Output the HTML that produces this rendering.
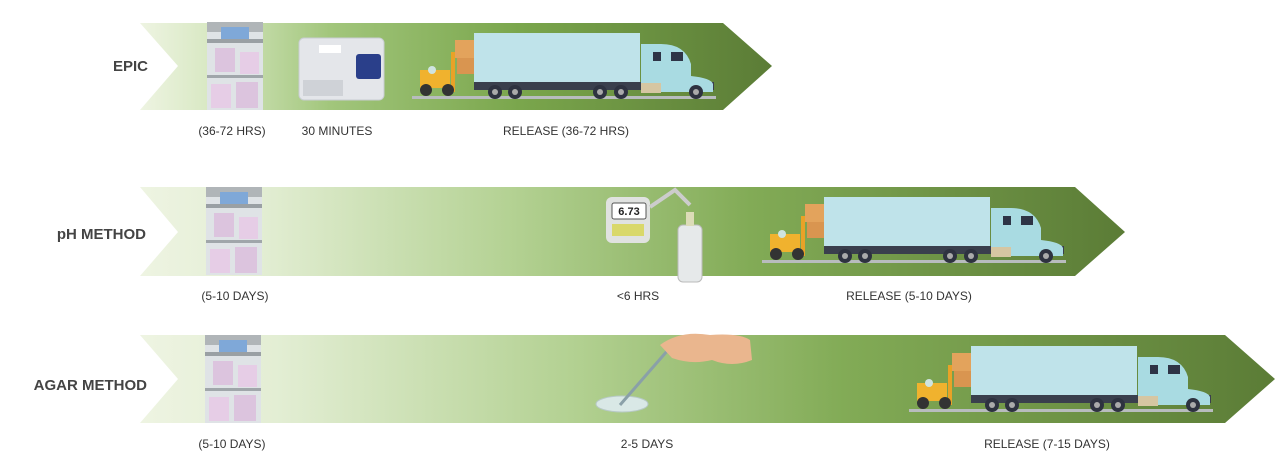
<!DOCTYPE html>
<html><head><meta charset="utf-8"><style>
html,body{margin:0;padding:0;background:#fff;}
svg{display:block;}
text{font-family:"Liberation Sans",sans-serif;}
.l{font-size:12px;fill:#333;}
.h{font-size:15px;font-weight:bold;fill:#444;}
</style></head><body>
<svg width="1280" height="455" viewBox="0 0 1280 455">
<defs>
<linearGradient id="g1" x1="0" x2="1" y1="0" y2="0">
<stop offset="0" stop-color="#eef4e2"/><stop offset="0.12" stop-color="#d6e7c0"/><stop offset="0.3" stop-color="#a2c67c"/><stop offset="0.6" stop-color="#7aa64c"/><stop offset="1" stop-color="#5b7c36"/></linearGradient>
<linearGradient id="g2" x1="0" x2="1" y1="0" y2="0">
<stop offset="0" stop-color="#eef4e2"/><stop offset="0.12" stop-color="#e3eed4"/><stop offset="0.38" stop-color="#b3d192"/><stop offset="0.62" stop-color="#82ab56"/><stop offset="1" stop-color="#5b7c36"/></linearGradient>
<g id="inc">
<rect x="0" y="0" width="56" height="88" fill="#dfe3e6"/>
<rect x="0" y="0" width="56" height="10" fill="#b0b5b8"/>
<rect x="14" y="5" width="28" height="12" fill="#7fa8d8"/>
<rect x="0" y="17" width="56" height="4" fill="#9aa0a4"/>
<rect x="0" y="53" width="56" height="3" fill="#a0a6aa"/>
<rect x="8" y="26" width="20" height="24" fill="#dcc4de"/><rect x="33" y="30" width="19" height="22" fill="#e6cde6"/>
<rect x="4" y="62" width="20" height="24" fill="#e6cde6"/><rect x="29" y="60" width="22" height="26" fill="#dcc4de"/>
</g>
<g id="truck">
<rect x="-3" y="66" width="304" height="3" fill="#b8bcbe"/>
<rect x="40" y="10" width="20" height="18" fill="#e3a35c"/><rect x="42" y="28" width="20" height="16" fill="#d99550"/>
<rect x="5" y="40" width="30" height="18" fill="#f0b22e"/><rect x="36" y="22" width="4" height="40" fill="#e9a227"/>
<circle cx="17" cy="40" r="4" fill="#cfe4e0"/>
<circle cx="11" cy="60" r="6" fill="#333"/><circle cx="33" cy="60" r="6" fill="#333"/>
<rect x="59" y="3" width="166" height="49" fill="#bfe3ea"/>
<rect x="59" y="52" width="240" height="8" fill="#3a3f4d"/>
<path d="M226 14 h20 q24 0 30 20 l0 12 q20 2 22 8 v8 h-72z" fill="#a9dbe2"/>
<rect x="238" y="22" width="8" height="9" fill="#2e3446"/><rect x="256" y="22" width="12" height="9" fill="#2e3446"/>
<rect x="226" y="53" width="20" height="10" fill="#d6c6a2"/>
<circle cx="80" cy="62" r="7" fill="#2e3240"/><circle cx="100" cy="62" r="7" fill="#2e3240"/><circle cx="185" cy="62" r="7" fill="#2e3240"/><circle cx="206" cy="62" r="7" fill="#2e3240"/><circle cx="281" cy="62" r="7" fill="#2e3240"/>
<circle cx="80" cy="62" r="3" fill="#aaa"/><circle cx="100" cy="62" r="3" fill="#aaa"/><circle cx="185" cy="62" r="3" fill="#aaa"/><circle cx="206" cy="62" r="3" fill="#aaa"/><circle cx="281" cy="62" r="3" fill="#aaa"/>
</g>
</defs>
<!-- Row 1 -->
<path d="M140 23 H723 L772 66 L723 110 H140 L178 66 Z" fill="url(#g1)"/>
<use href="#inc" x="207" y="22"/>
<rect x="299" y="38" width="85" height="62" rx="5" fill="#e4e6ea" stroke="#c8ccd2"/>
<rect x="356" y="54" width="25" height="25" rx="3" fill="#2a3f8a"/>
<rect x="319" y="45" width="22" height="8" fill="#fff"/>
<rect x="303" y="80" width="40" height="16" fill="#cfd2d7"/>
<use href="#truck" x="415" y="30"/>
<text class="h" x="148" y="71" text-anchor="end">EPIC</text>
<text class="l" x="232" y="135" text-anchor="middle">(36-72 HRS)</text>
<text class="l" x="337" y="135" text-anchor="middle">30 MINUTES</text>
<text class="l" x="566" y="135" text-anchor="middle">RELEASE (36-72 HRS)</text>
<!-- Row 2 -->
<path d="M140 187 H1075 L1125 232 L1075 276 H140 L178 232 Z" fill="url(#g2)"/>
<use href="#inc" x="206" y="187"/>
<rect x="606" y="197" width="44" height="46" rx="6" fill="#e0e2e0"/>
<rect x="612" y="203" width="34" height="16" rx="2" fill="#fff" stroke="#555"/>
<text x="629" y="215" font-size="11" font-weight="bold" text-anchor="middle" fill="#222">6.73</text>
<rect x="612" y="224" width="32" height="12" fill="#d9d86a"/>
<path d="M650 207 L675 190 L690 205" stroke="#ccc" stroke-width="4" fill="none"/>
<rect x="678" y="225" width="24" height="57" rx="5" fill="#e6e9ea" stroke="#bbb"/>
<rect x="686" y="212" width="8" height="14" fill="#dcdcb8"/>
<use href="#truck" x="765" y="194"/>
<text class="h" x="146" y="239" text-anchor="end">pH METHOD</text>
<text class="l" x="235" y="300" text-anchor="middle">(5-10 DAYS)</text>
<text class="l" x="638" y="300" text-anchor="middle">&lt;6 HRS</text>
<text class="l" x="909" y="300" text-anchor="middle">RELEASE (5-10 DAYS)</text>
<!-- Row 3 -->
<path d="M140 335 H1225 L1275 379 L1225 423 H140 L178 379 Z" fill="url(#g2)"/>
<use href="#inc" x="205" y="335"/>
<ellipse cx="622" cy="404" rx="26" ry="8" fill="#d9e8e6" stroke="#b7c9c6"/>
<line x1="620" y1="405" x2="668" y2="350" stroke="#8aa0a8" stroke-width="3"/>
<path d="M660 345 q20 -15 50 -10 q30 -2 40 5 l2 20 q-20 8 -40 0 q-20 5 -40 -2 z" fill="#eab68e"/>
<use href="#truck" x="912" y="343"/>
<text class="h" x="147" y="390" text-anchor="end">AGAR METHOD</text>
<text class="l" x="232" y="448" text-anchor="middle">(5-10 DAYS)</text>
<text class="l" x="647" y="448" text-anchor="middle">2-5 DAYS</text>
<text class="l" x="1047" y="448" text-anchor="middle">RELEASE (7-15 DAYS)</text>
</svg>
</body></html>
